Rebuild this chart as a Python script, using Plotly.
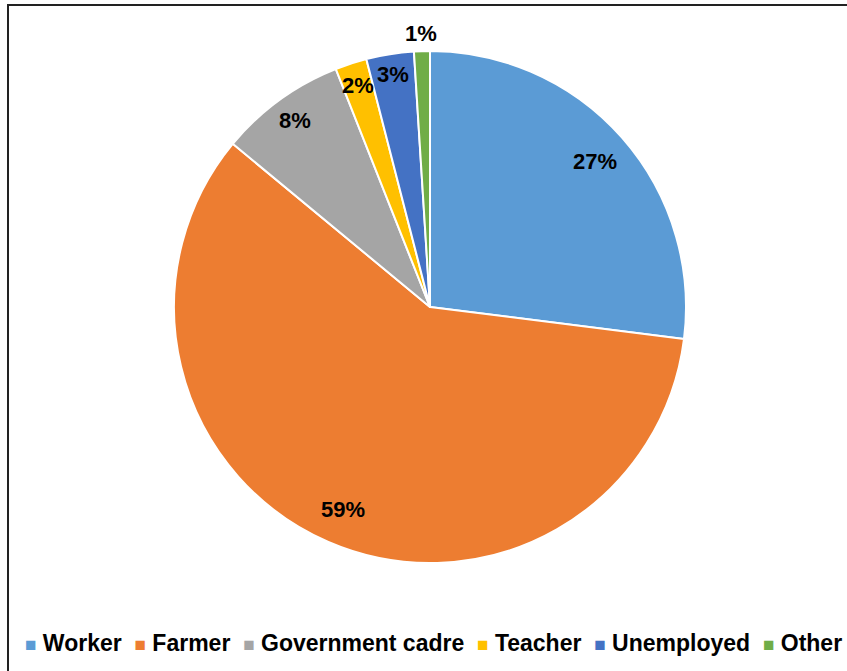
import math
import plotly.graph_objects as go

# Occupation shares (percent)
categories = ["Worker", "Farmer", "Government cadre", "Teacher", "Unemployed", "Other"]
shares = [27, 59, 8, 2, 3, 1]
colors = ["#5B9BD5", "#ED7D31", "#A5A5A5", "#FFC000", "#4472C4", "#70AD47"]

# radial position of each percentage label, as a fraction of the pie radius
label_radius = [0.86, 0.86, 0.90, 0.91, 0.92, 1.07]

W, H = 847, 671
cx, cy, r = 430, 307, 256
FONT = "Liberation Sans, Arial, sans-serif"

fig = go.Figure(go.Pie(
    labels=categories,
    values=shares,
    sort=False,
    direction="clockwise",
    rotation=0,
    marker=dict(colors=colors, line=dict(color="white", width=2)),
    textinfo="none",
    domain=dict(x=[(cx - r) / W, (cx + r) / W], y=[(H - cy - r) / H, (H - cy + r) / H]),
    hoverinfo="label+percent",
    showlegend=False,
))

# percentage labels placed along each slice's bisector
annotations = []
total = sum(shares)
cum = 0
for val, frac in zip(shares, label_radius):
    mid = 2 * math.pi * (cum + val / 2) / total
    cum += val
    px = cx + frac * r * math.sin(mid)
    py = cy - frac * r * math.cos(mid)
    annotations.append(dict(
        x=px / W, y=(H - py) / H, xref="paper", yref="paper",
        text=f"{val}%", showarrow=False, xanchor="center", yanchor="middle",
        font=dict(family=FONT, size=22, color="black", weight="bold"),
    ))

# single-row legend along the bottom
nb = "\u00a0"
items = [f"<span style='color:{c};font-size:19px'>■</span>{nb}{name}"
         for name, c in zip(categories, colors)]
annotations.append(dict(
    x=434 / W, y=(H - 643) / H, xref="paper", yref="paper",
    text=(nb * 2).join(items), showarrow=False, xanchor="center", yanchor="middle",
    font=dict(family=FONT, size=23, color="black", weight="bold"),
))

fig.update_layout(
    width=W, height=H,
    margin=dict(l=0, r=0, t=0, b=0),
    paper_bgcolor="white",
    annotations=annotations,
    shapes=[dict(type="rect", xref="paper", yref="paper",
                 x0=8 / W, x1=1.02, y0=-0.02, y1=(H - 5) / H,
                 line=dict(color="#222222", width=2))],
)

fig.write_html("out.html")
